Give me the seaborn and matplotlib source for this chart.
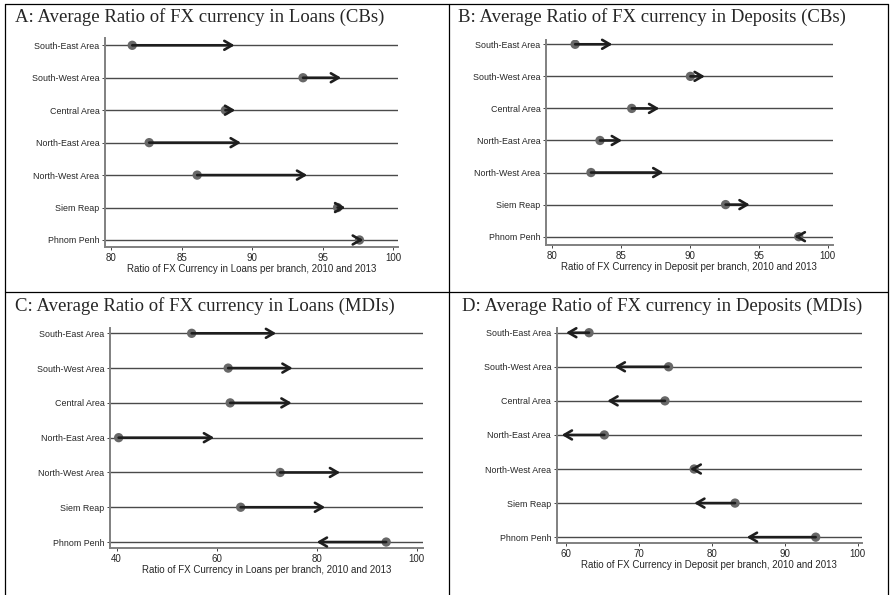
import matplotlib
matplotlib.use("Agg")
import matplotlib.pyplot as plt
from matplotlib.lines import Line2D
import seaborn as sns
import pandas as pd

regions = ["South-East Area", "South-West Area", "Central Area", "North-East Area",
           "North-West Area", "Siem Reap", "Phnom Penh"]

loans_cb_2010 = [81.5, 93.6, 88.1, 82.7, 86.1, 96.05, 97.6]
loans_cb_2013 = [88.75, 96.3, 88.8, 89.2, 93.9, 96.6, 97.85]
dep_cb_2010 = [81.7, 90.05, 85.8, 83.5, 82.85, 92.6, 97.9]
dep_cb_2013 = [84.4, 91.1, 87.8, 85.1, 88.1, 94.35, 97.6]
loans_mdi_2010 = [55.0, 62.3, 62.7, 40.4, 72.7, 64.8, 93.9]
loans_mdi_2013 = [71.9, 75.2, 75.0, 59.5, 84.7, 81.7, 80.0]
dep_mdi_2010 = [63.2, 74.1, 73.6, 65.3, 77.6, 83.2, 94.25]
dep_mdi_2013 = [60.05, 66.7, 65.7, 59.45, 77.1, 77.6, 84.8]

titles = ["A: Average Ratio of FX currency in Loans (CBs)",
          "B: Average Ratio of FX currency in Deposits (CBs)",
          "C: Average Ratio of FX currency in Loans (MDIs)",
          "D: Average Ratio of FX currency in Deposits (MDIs)"]
xlabels = ["Ratio of FX Currency in Loans per branch, 2010 and 2013",
           "Ratio of FX Currency in Deposit per branch, 2010 and 2013",
           "Ratio of FX Currency in Loans per branch, 2010 and 2013",
           "Ratio of FX Currency in Deposit per branch, 2010 and 2013"]
xticks_list = [[80, 85, 90, 95, 100], [80, 85, 90, 95, 100],
               [40, 60, 80, 100], [60, 70, 80, 90, 100]]

sns.set_style("white")
plt.rcParams["font.family"] = ["Liberation Sans", "DejaVu Sans"]

W, H = 890, 595
fig = plt.figure(figsize=(W / 100, H / 100), dpi=100)

# panel boxes in pixels: left, right, top, bottom
boxes = [(105, 398, 38, 247), (546, 832.7, 40, 245),
         (110, 422.7, 328.3, 548.3), (556.7, 861.7, 327.7, 543.3)]
xlims = [(79.57, 100.33), (79.59, 100.36), (38.67, 101.2), (58.77, 100.55)]
ylims = [(6.216, -0.225), (6.26, -0.134), (6.18, -0.144), (6.18, -0.147)]
title_pos = [(15, 17), (458, 17), (15, 306), (462, 306)]

data = [(loans_cb_2010, loans_cb_2013), (dep_cb_2010, dep_cb_2013),
        (loans_mdi_2010, loans_mdi_2013), (dep_mdi_2010, dep_mdi_2013)]

for k in range(4):
    l, r, t, b = boxes[k]
    ax = fig.add_axes([l / W, 1 - b / H, (r - l) / W, (b - t) / H])
    v10, v13 = data[k]
    df = pd.DataFrame({"region": regions, "pos": list(range(len(regions))),
                       "y2010": v10, "y2013": v13})
    for i in df["pos"]:
        ax.axhline(i, color="#4a4a4a", lw=1.0, zorder=1)
    sns.scatterplot(data=df, x="y2010", y="pos", ax=ax, color="#686868",
                    s=45, edgecolor="none", zorder=3, legend=False)
    for _, row in df.iterrows():
        ax.annotate("", xy=(row["y2013"], row["pos"]), xytext=(row["y2010"], row["pos"]),
                    arrowprops=dict(arrowstyle="->,head_length=0.55,head_width=0.32",
                                    color="#1e1e1e", lw=1.9, shrinkA=0, shrinkB=0,
                                    mutation_scale=10),
                    zorder=4)
    ax.set_xlim(*xlims[k])
    ax.set_ylim(*ylims[k])
    ax.set_yticks(df["pos"])
    ax.set_yticklabels(regions, fontsize=6.4)
    ax.set_xticks(xticks_list[k])
    ax.set_xticklabels([str(v) for v in xticks_list[k]], fontsize=7)
    ax.set_xlabel(xlabels[k], fontsize=7, labelpad=1)
    ax.set_ylabel("")
    ax.tick_params(axis="both", length=2.5, width=0.7, color="#444444", pad=1.5,
                   direction="out", bottom=True, left=True)
    for s in ["top", "right"]:
        ax.spines[s].set_visible(False)
    for s in ["left", "bottom"]:
        ax.spines[s].set_color("#808080")
        ax.spines[s].set_linewidth(1.4)
    tx, ty = title_pos[k]
    fig.text(tx / W, 1 - ty / H, titles[k], family=["Liberation Serif", "DejaVu Serif"],
             fontsize=13.5, ha="left", va="center")

# table borders
def hline(y, x0, x1):
    fig.add_artist(Line2D([x0 / W, x1 / W], [1 - y / H, 1 - y / H], color="black", lw=0.9))

def vline(x, y0, y1):
    fig.add_artist(Line2D([x / W, x / W], [1 - y0 / H, 1 - y1 / H], color="black", lw=0.9))

hline(4, 5, 888)
hline(292, 5, 888)
vline(5, 4, 595)
vline(448.7, 4, 595)
vline(888, 4, 595)

fig.savefig("out.png", dpi=100)
